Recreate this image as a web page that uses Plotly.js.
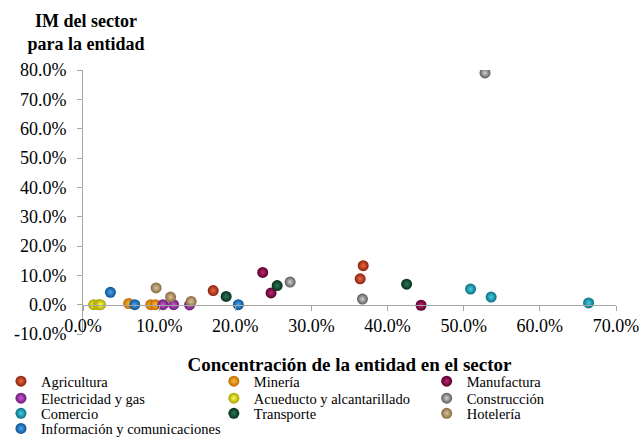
<!DOCTYPE html>
<html>
<head>
<meta charset="utf-8">
<script src="https://cdn.plot.ly/plotly-3.0.1.min.js"></script>
<style>
  html, body { margin: 0; padding: 0; background: #fff; }
  #chart { width: 639px; height: 437px; }
</style>
</head>
<body>
<div id="chart"></div>
<script>
// Sector names (legend order)
const sectors = [
  'Agricultura', 'Minería', 'Manufactura',
  'Electricidad y gas', 'Acueducto y alcantarillado', 'Construcción',
  'Comercio', 'Transporte', 'Hotelería',
  'Información y comunicaciones'
];

// Concentración de la entidad en el sector (%), one array per sector
const concAgricultura  = [17.1, 36.4, 36.8];
const concMineria      = [6.0, 8.9, 9.5];
const concManufactura  = [23.6, 24.7, 44.4];
const concElectricidad = [10.5, 11.9, 14.0];
const concAcueducto    = [1.4, 2.0, 2.3];
const concConstruccion = [52.8, 27.2, 36.7];
const concComercio     = [50.9, 53.6, 66.4];
const concTransporte   = [18.8, 25.5, 42.5];
const concHoteleria    = [9.6, 11.5, 14.2];
const concInformacion  = [3.6, 6.8, 20.4];

// IM del sector para la entidad (%), one array per sector
const imAgricultura  = [4.8, 8.8, 13.3];
const imMineria      = [0.4, 0.0, 0.0];
const imManufactura  = [11.0, 4.0, -0.2];
const imElectricidad = [0.0, 0.0, -0.1];
const imAcueducto    = [0.0, 0.0, 0.0];
const imConstruccion = [79.0, 7.7, 1.9];
const imComercio     = [5.3, 2.6, 0.6];
const imTransporte   = [2.8, 6.5, 7.0];
const imHoteleria    = [5.7, 2.6, 1.1];
const imInformacion  = [4.2, 0.0, 0.0];

// Axis ticks
const xTicks = [0, 10, 20, 30, 40, 50, 60, 70];
const yTicks = [-10, 0, 10, 20, 30, 40, 50, 60, 70, 80];

const xSeries = [concAgricultura, concMineria, concManufactura, concElectricidad,
  concAcueducto, concConstruccion, concComercio, concTransporte, concHoteleria, concInformacion];
const ySeries = [imAgricultura, imMineria, imManufactura, imElectricidad,
  imAcueducto, imConstruccion, imComercio, imTransporte, imHoteleria, imInformacion];

// Sphere shading: edge colour and highlight colour for each sector
const edgeColors  = ['#8a200c', '#c06a00', '#5a002c', '#6c1a78', '#a8a000',
  '#5a5a5a', '#0a6e80', '#05301c', '#86693f', '#0c5090'];
const lightColors = ['#ec6a44', '#ffb838', '#b8286c', '#c85ad4', '#ffff50',
  '#d2d2d2', '#48cfe2', '#2f7656', '#dcc29c', '#48a8ec'];

const FONT = 'Liberation Serif, Times New Roman, serif';

// Legend grid: three columns, one small legend box per entry
const legendColX = [-0.1539, 0.2455, 0.6448];
const legendRowY = [-0.1183, -0.1826, -0.2400, -0.2975];
const legendId = i => (i === 0 ? 'legend' : 'legend' + (i + 1));

const traces = sectors.map((name, i) => ({
  type: 'scatter',
  mode: 'markers',
  name: name,
  x: xSeries[i],
  y: ySeries[i],
  legend: legendId(i),
  marker: {
    size: 11,
    color: edgeColors[i],
    line: { width: 0 },
    gradient: { type: 'radial', color: lightColors[i] }
  },
  hoverinfo: 'x+y+name'
}));

// The horizontal axis crosses the vertical one at 0 %
const yMin = -10, yMax = 80;
const crossAt = (0 - yMin) / (yMax - yMin);

const layout = {
  width: 639,
  height: 437,
  paper_bgcolor: '#ffffff',
  plot_bgcolor: '#ffffff',
  margin: { l: 82.6, r: 23, t: 70, b: 102.5, autoexpand: false },
  font: { family: FONT, size: 18, color: '#000' },
  showlegend: true,
  title: {
    text: '<b>IM del sector<br>para la entidad</b>',
    font: { family: FONT, size: 18, color: '#000' },
    xref: 'container', yref: 'container',
    x: 86 / 639, xanchor: 'center',
    y: 1 - 27 / 437, yanchor: 'top'
  },
  xaxis: {
    range: [0, 70],
    tickvals: xTicks,
    ticktext: xTicks.map(v => v.toFixed(1) + '%'),
    anchor: 'free',
    position: crossAt,
    showgrid: false,
    zeroline: false,
    showline: true,
    linecolor: '#a6a6a6',
    linewidth: 1,
    ticks: 'outside',
    ticklen: 5,
    tickcolor: '#a6a6a6',
    ticklabeloverflow: 'allow',
    tickfont: { family: FONT, size: 18, color: '#000' },
    title: {
      text: '<b>Concentración de la entidad en el sector</b>',
      font: { family: FONT, size: 19, color: '#000' },
      standoff: 22
    }
  },
  yaxis: {
    range: [yMin, yMax],
    tickvals: yTicks,
    ticktext: yTicks.map(v => v.toFixed(1) + '%'),
    showgrid: false,
    zeroline: false,
    showline: true,
    linecolor: '#a6a6a6',
    linewidth: 1,
    ticks: 'outside',
    ticklen: 5,
    tickcolor: '#a6a6a6',
    ticklabelstandoff: 7,
    ticklabeloverflow: 'allow',
    tickfont: { family: FONT, size: 18, color: '#000' }
  }
};

sectors.forEach((name, i) => {
  layout[legendId(i)] = {
    orientation: 'h',
    x: legendColX[i % 3], xanchor: 'left',
    y: legendRowY[Math.floor(i / 3)], yanchor: 'top',
    font: { family: FONT, size: 14.5, color: '#000' },
    bgcolor: 'rgba(0,0,0,0)',
    borderwidth: 0
  };
});

Plotly.newPlot('chart', traces, layout, { displayModeBar: false, staticPlot: true });
</script>
</body>
</html>
